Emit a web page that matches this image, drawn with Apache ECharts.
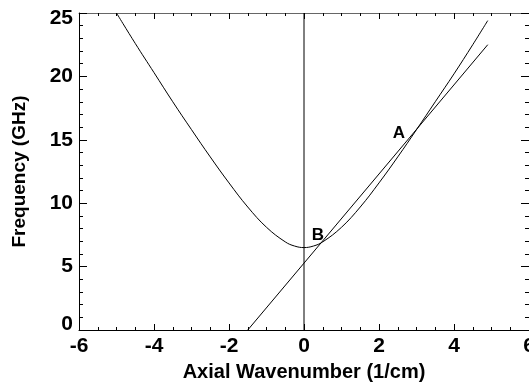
<!DOCTYPE html>
<html><head><meta charset="utf-8">
<script src="https://cdn.jsdelivr.net/npm/echarts@6/dist/echarts.min.js"></script>
<style>html,body{margin:0;padding:0;background:#fff}#c{width:529px;height:383px}</style>
</head><body><div id="c"></div>
<script>
// Axis ticks
const xTicks = [-6, -4, -2, 0, 2, 4, 6];
const yTicks = [0, 5, 10, 15, 20, 25];
// Hyperbolic waveguide mode
const hypK = [-5, -4.5, -4, -3.5, -3, -2.5, -2, -1.5, -1, -0.5, -0.25, 0, 0.25, 0.5, 1, 1.5, 2, 2.5, 3, 3.5, 4, 4.5, 4.9];
const hypF = [25.0, 22.6, 20.3, 18.0, 15.8, 13.65, 11.6, 9.7, 8.1, 6.95, 6.62, 6.5, 6.62, 6.95, 8.1, 9.7, 11.6, 13.65, 15.8, 18.0, 20.2, 22.5, 24.4];
// Beam line
const lineK = [-1.5, 4.9];
const lineF = [0, 22.5];
// Vertical line at k = 0
const vertK = [0, 0];
const vertF = [0, 25];
// Point labels
const ptNames = ['A', 'B'];
const ptK = [2.53, 0.37];
const ptF = [15.5, 7.5];

const FONT = '"Liberation Sans",Arial,sans-serif';
const zip = (a, b) => a.map((v, i) => [v, b[i]]);

const chart = echarts.init(document.getElementById('c'), null, {renderer: 'canvas'});
const axisLineStyle = {color: '#000', width: 1};
const xBase = {
  type: 'value', min: xTicks[0], max: xTicks[xTicks.length - 1], interval: 2,
  axisLine: {show: true, onZero: false, lineStyle: axisLineStyle},
  splitLine: {show: false}
};
const yBase = {
  type: 'value', min: yTicks[0], max: yTicks[yTicks.length - 1], interval: 5,
  axisLine: {show: true, onZero: false, lineStyle: axisLineStyle},
  splitLine: {show: false}
};
chart.setOption({
  animation: false,
  backgroundColor: '#fff',
  grid: {left: 79, right: 0, top: 13, bottom: 53, containLabel: false, outerBoundsMode: 'none'},
  xAxis: [
    Object.assign({}, xBase, {
      position: 'bottom',
      axisTick: {show: true, inside: true, length: 6, lineStyle: {color: '#000'}},
      minorTick: {show: true, splitNumber: 4, length: 3, lineStyle: {color: '#000'}},
      axisLabel: {show: true, margin: 6, color: '#000', fontSize: 21, fontWeight: 'bold', fontFamily: FONT,
        formatter: v => String(v)},
      name: 'Axial Wavenumber (1/cm)', nameLocation: 'middle', nameGap: 32,
      nameTextStyle: {color: '#000', fontSize: 20, fontWeight: 'bold', fontFamily: FONT}
    }),
    Object.assign({}, xBase, {
      position: 'top',
      axisLine: {show: true, onZero: false, lineStyle: {color: '#666', width: 1}},
      axisTick: {show: true, inside: true, length: 6, lineStyle: {color: '#000'}},
      minorTick: {show: true, splitNumber: 4, length: 3, lineStyle: {color: '#000'}},
      axisLabel: {show: false}
    })
  ],
  yAxis: [
    Object.assign({}, yBase, {
      position: 'left',
      axisTick: {show: true, inside: true, length: 8, lineStyle: {color: '#000'}},
      minorTick: {show: true, splitNumber: 5, length: 4, lineStyle: {color: '#000'}},
      axisLabel: {show: true, margin: 6, color: '#000', fontSize: 21, fontWeight: 'bold', fontFamily: FONT,
        formatter: v => v === yTicks[0] ? '{lo|' + v + '}' : (v === yTicks[yTicks.length - 1] ? '{hi|' + v + '}' : String(v)),
        rich: {
          lo: {fontSize: 21, fontWeight: 'bold', fontFamily: FONT, color: '#000', padding: [0, 0, 12, 0]},
          hi: {fontSize: 21, fontWeight: 'bold', fontFamily: FONT, color: '#000', padding: [10, 0, 0, 0]}
        }},
      name: 'Frequency (GHz)', nameLocation: 'middle', nameGap: 50, nameRotate: 90,
      nameTextStyle: {color: '#000', fontSize: 19, fontWeight: 'bold', fontFamily: FONT}
    }),
    Object.assign({}, yBase, {
      position: 'right',
      axisTick: {show: true, inside: true, length: 8, lineStyle: {color: '#000'}},
      minorTick: {show: true, splitNumber: 5, length: 4, lineStyle: {color: '#000'}},
      axisLabel: {show: false}
    })
  ],
  series: [
    {type: 'line', data: zip(hypK, hypF), smooth: 0.4, symbol: 'none',
      lineStyle: {color: '#000', width: 1}, xAxisIndex: 0, yAxisIndex: 0},
    {type: 'line', data: zip(lineK, lineF), symbol: 'none',
      lineStyle: {color: '#000', width: 1}, xAxisIndex: 0, yAxisIndex: 0},
    {type: 'line', data: zip(vertK, vertF), symbol: 'none',
      lineStyle: {color: '#000', width: 1}, xAxisIndex: 0, yAxisIndex: 0},
    {type: 'scatter', symbolSize: 1, itemStyle: {color: 'rgba(0,0,0,0)', opacity: 1},
      data: ptNames.map((n, i) => ({name: n, value: [ptK[i], ptF[i]]})),
      label: {show: true, position: 'inside', formatter: '{b}', color: '#000', fontSize: 17,
        fontWeight: 'bold', fontFamily: FONT}}
  ]
});
</script></body></html>
